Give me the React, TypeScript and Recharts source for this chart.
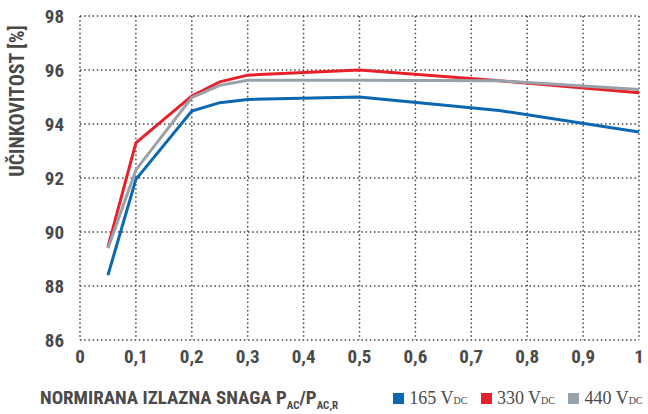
import React from 'react';
import { LineChart, Line, XAxis, YAxis, CartesianGrid, Label } from 'recharts';

const loads = [0.05, 0.1, 0.2, 0.25, 0.3, 0.5, 0.75, 1];
const eff165 = [88.4, 91.95, 94.48, 94.79, 94.91, 95.0, 94.5, 93.7];
const eff330 = [89.45, 93.3, 95.04, 95.56, 95.81, 96.0, 95.6, 95.16];
const eff440 = [89.4, 92.3, 94.98, 95.43, 95.62, 95.62, 95.6, 95.28];

const xTicks = [0, 0.1, 0.2, 0.3, 0.4, 0.5, 0.6, 0.7, 0.8, 0.9, 1];
const yTicks = [86, 88, 90, 92, 94, 96, 98];

const series = [
  { key: 'v165', label: '165', color: '#0a67b2' },
  { key: 'v330', label: '330', color: '#e8202a' },
  { key: 'v440', label: '440', color: '#98a2a8' },
];

const data = loads.map((x, i) => ({ x, v165: eff165[i], v330: eff330[i], v440: eff440[i] }));

const textColor = '#4a4a4a';
const boldFont = '"Roboto Condensed", Roboto, sans-serif';

const fmt = (v: number) => String(v).replace('.', ',');

// legend row under the x axis, as in the original datasheet
function BottomLegend() {
  return (
    <div
      style={{
        position: 'absolute',
        left: 0,
        top: 386,
        width: 648,
        display: 'flex',
        alignItems: 'baseline',
        color: textColor,
        whiteSpace: 'nowrap',
      }}
    >
      <div style={{ fontFamily: boldFont, fontWeight: 700, fontSize: 19, marginLeft: 40, width: 356 }}>
        NORMIRANA IZLAZNA SNAGA P<sub style={{ fontSize: 11 }}>AC</sub>/P<sub style={{ fontSize: 11 }}>AC,R</sub>
      </div>
      {series.map((s) => (
        <div
          key={s.key}
          style={{ display: 'flex', alignItems: 'baseline', marginLeft: 8, fontFamily: '"Liberation Serif", serif', fontSize: 18, width: 82 }}
        >
          <span style={{ display: 'inline-block', width: 11, height: 11, background: s.color, marginRight: 5 }} />
          {s.label} V<sub style={{ fontSize: 10 }}>DC</sub>
        </div>
      ))}
    </div>
  );
}

export default function App() {
  return (
    <div style={{ position: 'absolute', left: 0, top: 0, width: 648, height: 414, background: '#fff' }}>
      <LineChart width={648} height={414} data={data} margin={{ top: 16, right: 9, left: 0, bottom: 44 }}>
        <CartesianGrid stroke="#444" strokeDasharray="1.5 2.7" strokeWidth={1.5} verticalValues={xTicks} horizontalValues={yTicks} />
        <XAxis
          dataKey="x"
          type="number"
          domain={[0, 1]}
          ticks={xTicks}
          tickFormatter={fmt}
          axisLine={false}
          tickLine={false}
          height={30}
          tick={{ fill: textColor, fontSize: 19, fontWeight: 700, fontFamily: boldFont }}
          tickMargin={4}
        />
        <YAxis
          type="number"
          domain={[86, 98]}
          ticks={yTicks}
          axisLine={false}
          tickLine={false}
          width={80}
          tick={{ fill: textColor, fontSize: 19, fontWeight: 700, fontFamily: boldFont }}
          tickMargin={10}
        >
          <Label
            content={() => (
              <text
                x={24}
                y={101}
                transform="rotate(-90 24 101)"
                textAnchor="middle"
                fill={textColor}
                fontSize={20}
                fontWeight={700}
                fontFamily={boldFont}
              >
                UČINKOVITOST [%]
              </text>
            )}
          />
        </YAxis>
        {series.map((s) => (
          <Line key={s.key} type="linear" dataKey={s.key} stroke={s.color} strokeWidth={3} dot={false} isAnimationActive={false} />
        ))}
      </LineChart>
      <BottomLegend />
    </div>
  );
}
